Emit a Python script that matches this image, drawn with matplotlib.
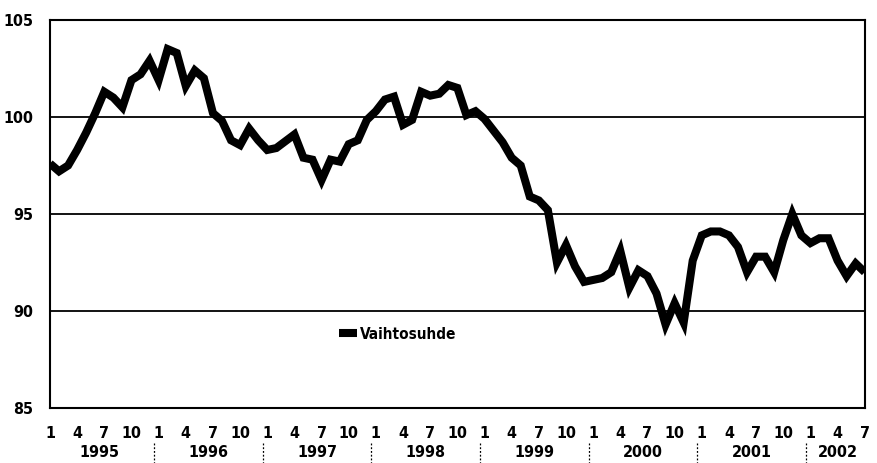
import numpy as np
import matplotlib.pyplot as plt
from matplotlib import transforms

# Vaihtosuhde, kuukausittain 1/1995 - 7/2002
vaihtosuhde = [
    97.6, 97.2, 97.5, 98.3, 99.2, 100.2, 101.3, 101.0, 100.5, 101.9, 102.2, 102.9,   # 1995
    101.9, 103.5, 103.3, 101.6, 102.4, 102.0, 100.2, 99.8, 98.8, 98.55, 99.4, 98.8,  # 1996
    98.3, 98.4, 98.75, 99.1, 97.9, 97.8, 96.75, 97.8, 97.7, 98.6, 98.8, 99.85,       # 1997
    100.3, 100.9, 101.05, 99.6, 99.85, 101.3, 101.1, 101.2, 101.65, 101.5, 100.1, 100.3,  # 1998
    99.9, 99.3, 98.7, 97.9, 97.5, 95.9, 95.7, 95.2, 92.5, 93.4, 92.3, 91.5,          # 1999
    91.6, 91.7, 92.0, 93.1, 91.2, 92.1, 91.8, 90.9, 89.3, 90.4, 89.4, 92.6,          # 2000
    93.9, 94.1, 94.1, 93.9, 93.3, 92.0, 92.8, 92.8, 92.0, 93.65, 95.0, 93.9,         # 2001
    93.5, 93.75, 93.75, 92.6, 91.8, 92.45, 92.0,                                     # 2002
]
vuodet = [1995, 1996, 1997, 1998, 1999, 2000, 2001, 2002]
kuukaudet = [1, 4, 7, 10]
y_ticks = [85, 90, 95, 100, 105]

fontti = ['DejaVu Sans']
plt.rcParams['font.family'] = fontti
plt.rcParams['font.weight'] = 'bold'
plt.rcParams['font.stretch'] = 'condensed'

n = len(vaihtosuhde)
x = np.arange(n)

fig = plt.figure(figsize=(8.77, 4.63), dpi=100)
ax = fig.add_axes([0.057, 0.1188, 0.929, 0.838])

for g in [90, 95, 100]:
    ax.axhline(g, color='black', lw=1.3, zorder=1)

ax.plot(x, vaihtosuhde, color='black', lw=5.8, solid_joinstyle='miter',
        solid_capstyle='butt', zorder=3, label='Vaihtosuhde')

ax.set_xlim(0, n - 1)
ax.set_ylim(85, 105)
ax.set_yticks(y_ticks)
ax.set_yticklabels([str(v) for v in y_ticks], fontsize=11.5, fontweight='bold',
                   fontstretch='condensed')

# kuukausitunnisteet
pos = []
labs = []
for i in range(n):
    m = i % 12 + 1
    if m in kuukaudet:
        pos.append(i)
        labs.append(str(m))
ax.set_xticks(pos)
ax.set_xticklabels(labs, fontsize=11.5, fontweight='bold', fontstretch='condensed')
ax.tick_params(axis='both', length=0)
ax.tick_params(axis='x', pad=13)
ax.tick_params(axis='y', pad=12)

for s in ax.spines.values():
    s.set_linewidth(1.5)
    s.set_color('black')

# vuodet ja erottimet
trans = transforms.blended_transform_factory(ax.transData, ax.transAxes)
for k, v in enumerate(vuodet):
    alku = k * 12
    loppu = min(alku + 11, n - 1)
    ax.text((alku + loppu) / 2, -0.115, str(v), transform=trans, ha='center',
            va='center', fontsize=11.5, fontweight='bold', fontstretch='condensed')
    if k > 0:
        ax.plot([alku - 0.5, alku - 0.5], [-0.09, -0.141], transform=trans,
                color='black', lw=0.9, ls=(0, (1.5, 1.5)), clip_on=False)

leg = ax.legend(loc='lower left', bbox_to_anchor=(0.347, 0.155), frameon=False,
                handlelength=1.2, handletextpad=0.2, borderaxespad=0,
                prop={'family': fontti, 'weight': 'bold', 'size': 11,
                      'stretch': 'condensed'})

fig.savefig('out.png', dpi=100, facecolor='white')
